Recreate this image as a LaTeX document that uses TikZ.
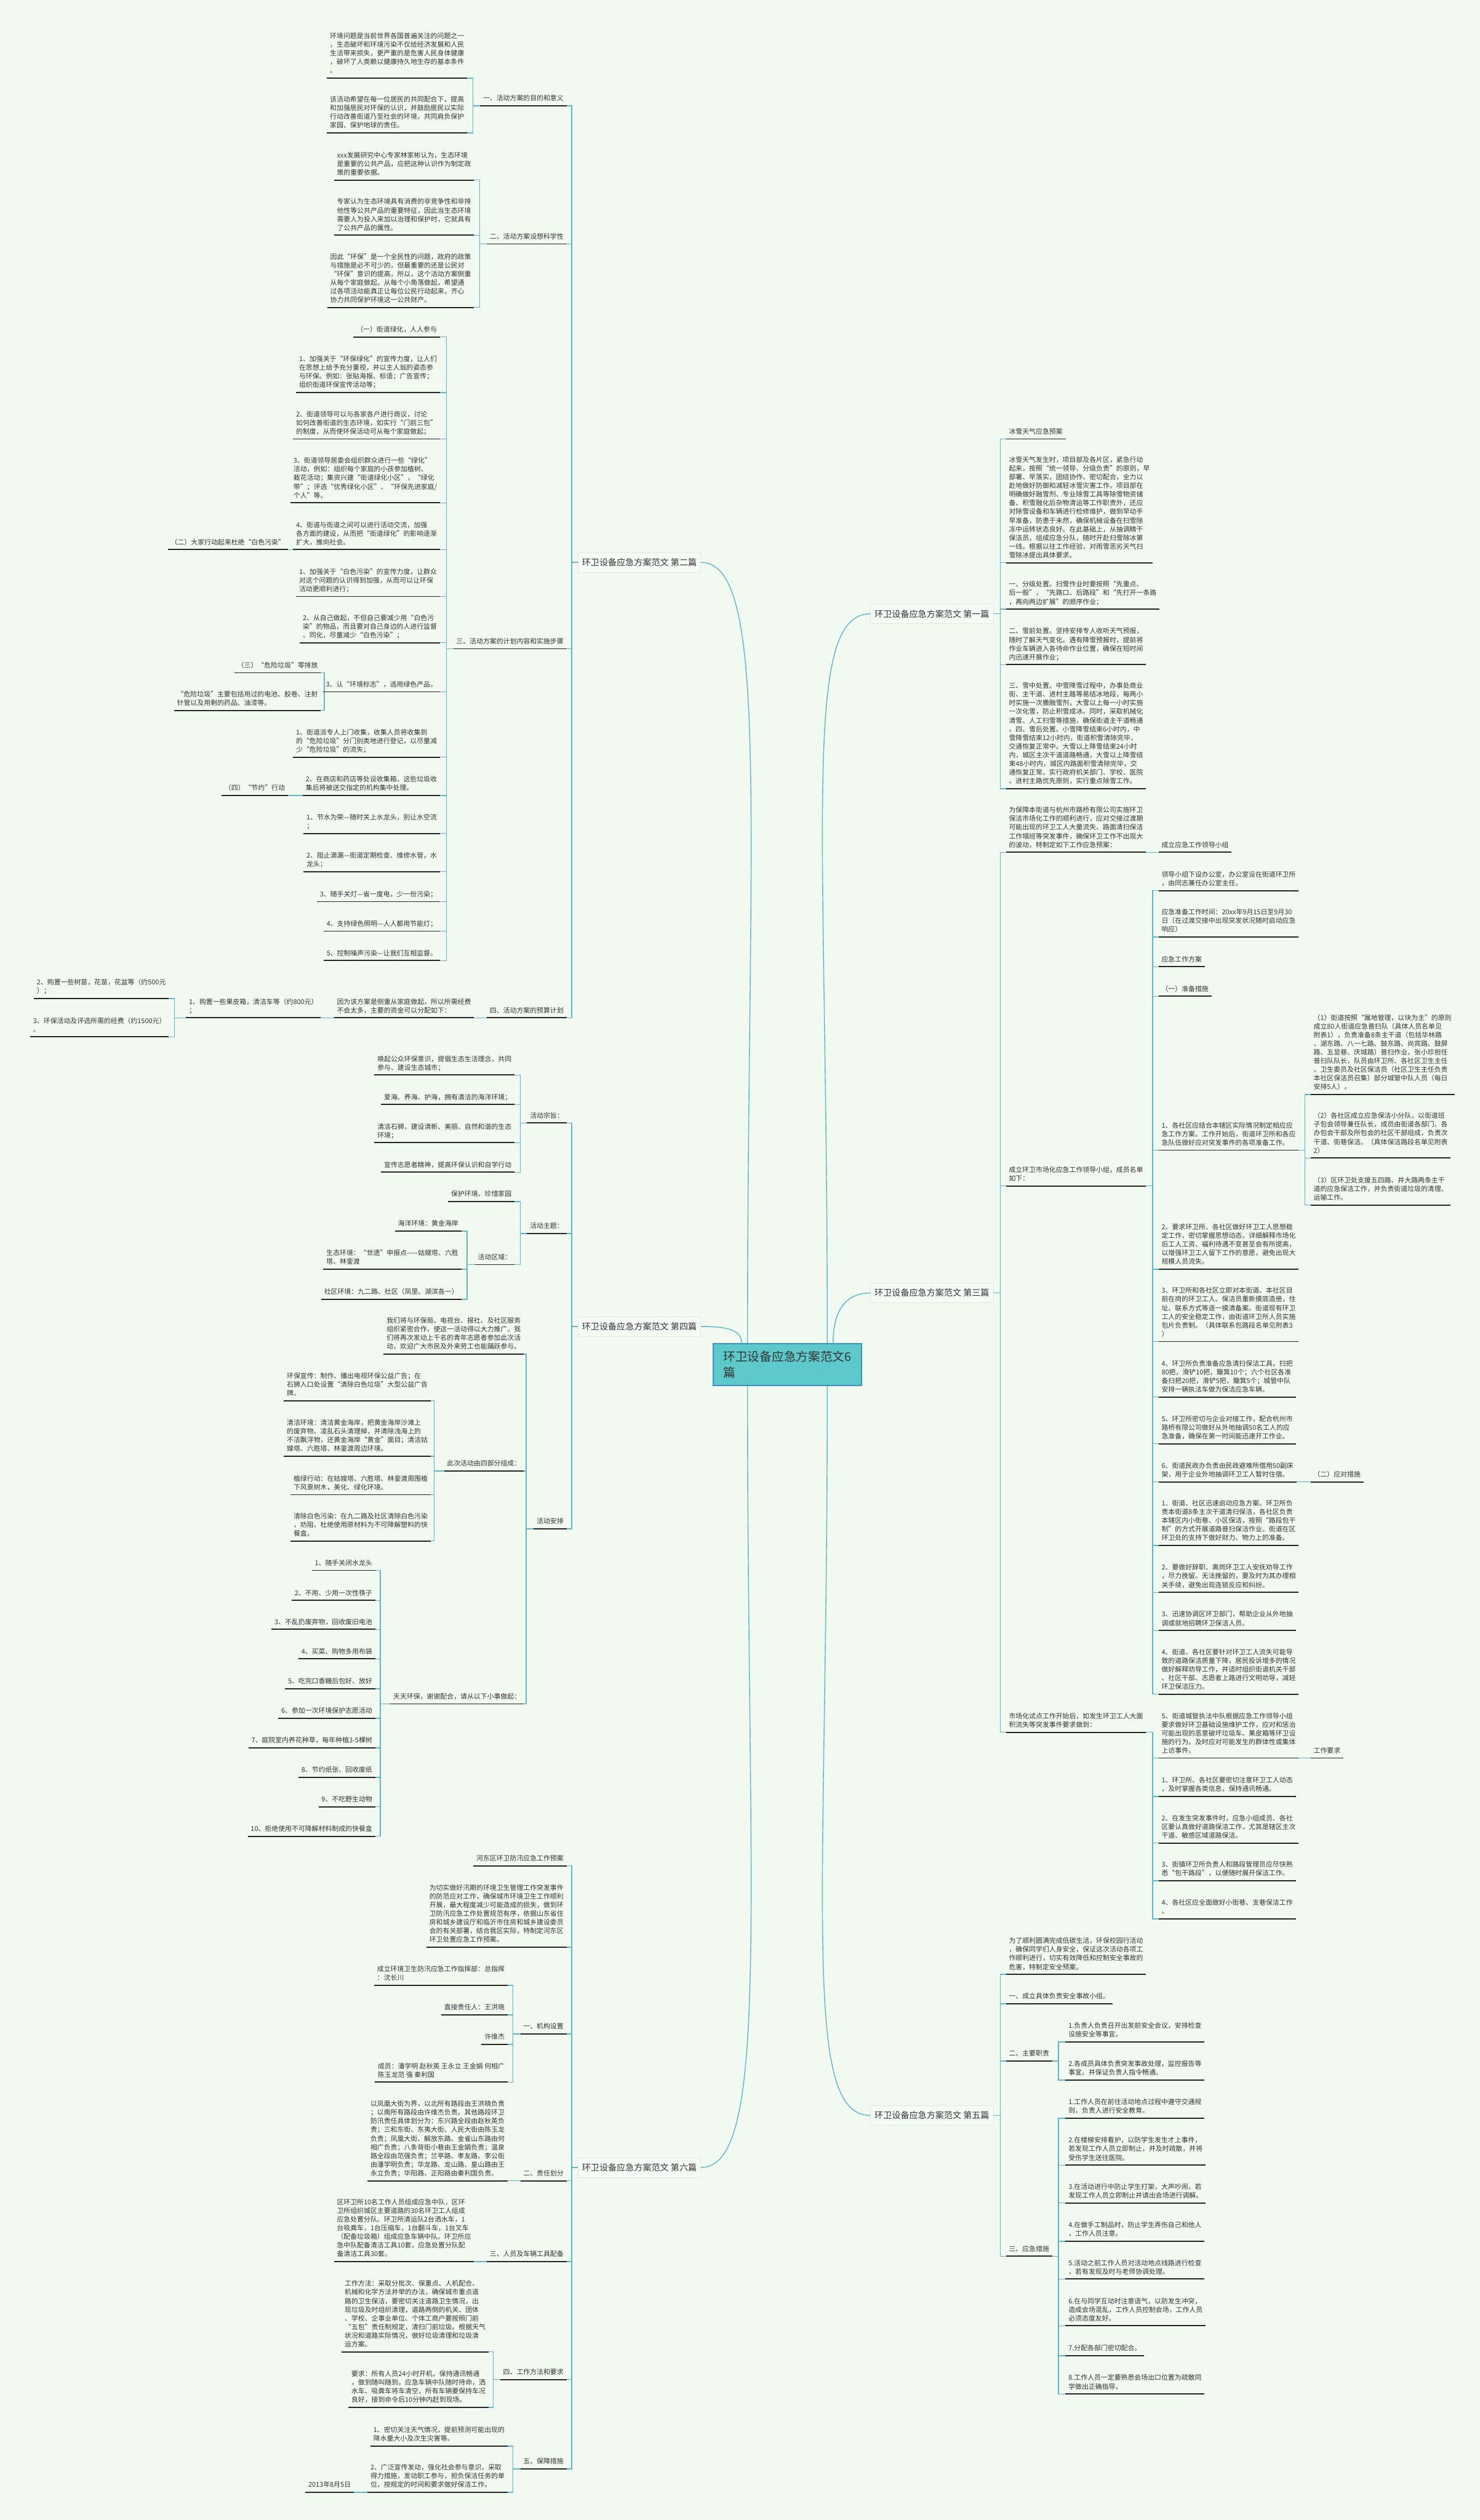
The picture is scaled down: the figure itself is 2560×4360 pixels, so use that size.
\documentclass[tikz,border=0pt]{standalone}
\usepackage{fontspec}
\setmainfont{Noto Sans CJK SC}
\definecolor{bgc}{HTML}{F1F9F1}
\definecolor{conc}{HTML}{5CB8C6}
\definecolor{txtc}{HTML}{333333}
\definecolor{cfill}{HTML}{5EC9CA}
\definecolor{cdraw}{HTML}{3D8FC7}
\definecolor{pfill}{HTML}{F5FBF5}
\definecolor{pdraw}{HTML}{E0E8E0}
\tikzset{
  basenode/.style={font=\fontsize{11.6}{15}\selectfont, text=txtc, inner xsep=5pt, inner ysep=4pt, align=left, execute at end node=\strut},
  lnode/.style={basenode, anchor=south east},
  rnode/.style={basenode, anchor=south west},
  uline/.style={line width=2pt, black!85},
  conn/.style={line width=1.5pt, conc},
  pian/.style={font=\fontsize{15}{18}\selectfont, text=txtc, fill=pfill, draw=pdraw, line width=0.8pt, inner xsep=7pt, minimum height=34pt},
  center/.style={font=\fontsize{21}{27}\selectfont, text=txtc, fill=cfill, draw=cdraw, line width=2pt, minimum width=256pt, minimum height=72pt, align=left}
}
\newcommand\lconn[3]{\foreach \ch in {#3}{\draw[conn] (#1) -- (#2,0 |- #1) |- (\ch.south east);}}
\newcommand\rconn[3]{\foreach \ch in {#3}{\draw[conn] (#1) -- (#2,0 |- #1) |- (\ch.south west);}}
\begin{document}
\begin{tikzpicture}[x=1pt,y=-1pt]
\fill[bgc] (0,0) rectangle (2560,4360);
\useasboundingbox (0,0) rectangle (2560,4360);

% central
\node[center] (c) at (1362,2361) {环卫设备应急方案范文6\\篇};

% level 1
\node[pian] (p2) at (1106,973) {环卫设备应急方案范文 第二篇};
\node[pian] (p4) at (1106,2295) {环卫设备应急方案范文 第四篇};
\node[pian] (p6) at (1106,3750) {环卫设备应急方案范文 第六篇};
\node[pian] (p1) at (1612,1062) {环卫设备应急方案范文 第一篇};
\node[pian] (p3) at (1612,2237) {环卫设备应急方案范文 第三篇};
\node[pian] (p5) at (1612,3660) {环卫设备应急方案范文 第五篇};

\draw[conn] ([xshift=60pt]c.north west) .. controls +(0,-900) and +(120,0) .. (p2.east);
\draw[conn] ([xshift=50pt]c.north west) .. controls +(0,-25) and +(40,0) .. (p4.east);
\draw[conn] ([xshift=60pt]c.south west) .. controls +(0,900) and +(120,0) .. (p6.east);
\draw[conn] ([xshift=-60pt]c.north east) .. controls +(0,-900) and +(-120,0) .. (p1.west);
\draw[conn] ([xshift=-50pt]c.north east) .. controls +(0,-60) and +(-40,0) .. (p3.west);
\draw[conn] ([xshift=-60pt]c.south east) .. controls +(0,900) and +(-120,0) .. (p5.west);

% ===== 第二篇 =====
\node[lnode] (a1) at (980,183) {一、活动方案的目的和意义};
\node[lnode] (a1c1) at (808,135) {环境问题是当前世界各国普遍关注的问题之一\\，生态破坏和环境污染不仅给经济发展和人民\\生活带来损失，更严重的是危害人民身体健康\\，破坏了人类赖以健康持久地生存的基本条件\\。};
\node[lnode] (a1c2) at (808,230) {该活动希望在每一位居民的共同配合下，提高\\和加强居民对环保的认识，并鼓励居民以实际\\行动改善街道乃至社会的环境，共同肩负保护\\家园、保护地球的责任。};
\node[lnode] (a2) at (980,422) {二、活动方案设想科学性};
\node[lnode] (a2c1) at (820,311.5) {xxx发展研究中心专家林家彬认为，生态环境\\是重要的公共产品，应把这种认识作为制定政\\策的重要依据。};
\node[lnode] (a2c2) at (820,407) {专家认为生态环境具有消费的非竞争性和非排\\他性等公共产品的重要特征，因此当生态环境\\需要人为投入来加以治理和保护时，它就具有\\了公共产品的属性。};
\node[lnode] (a2c3) at (820,532) {因此“环保”是一个全民性的问题，政府的政策\\与措施是必不可少的，但最重要的还是公民对\\“环保”意识的提高，所以，这个活动方案侧重\\从每个家庭做起，从每个小角落做起，希望通\\过各项活动能真正让每位公民行动起来，齐心\\协力共同保护环境这一公共财产。};
\node[lnode] (a3) at (980,1122.5) {三、活动方案的计划内容和实施步骤};
\node[lnode] (a3c1) at (761,583) {（一）街道绿化，人人参与};
\node[lnode] (a3c2) at (761,679) {1、加强关于“环保绿化”的宣传力度，让人们\\在思想上给予充分重视，并以主人翁的姿态参\\与环保。例如：张贴海报、标语；广告宣传；\\组织街道环保宣传活动等；};
\node[lnode] (a3c3) at (761,759.5) {2、街道领导可以与各家各户进行商议，讨论\\如何改善街道的生态环境，如实行“门前三包”\\的制度，从而使环保活动可从每个家庭做起；};
\node[lnode] (a3c4) at (761,870) {3、街道领导居委会组织群众进行一些“绿化”\\活动，例如：组织每个家庭的小孩参加植树、\\栽花活动；集资兴建“街道绿化小区”，“绿化\\带”；评选“优秀绿化小区”、“环保先进家庭/\\个人”等。};
\node[lnode] (a3c5) at (761,951) {4、街道与街道之间可以进行活动交流，加强\\各方面的建设，从而把“街道绿化”的影响逐渐\\扩大，推向社会。};
\node[lnode] (a3c5a) at (498,951) {（二）大家行动起来杜绝“白色污染”};
\node[lnode] (a3c6) at (761,1032) {1、加强关于“白色污染”的宣传力度，让群众\\对这个问题的认识得到加强，从而可以让环保\\活动更顺利进行；};
\node[lnode] (a3c7) at (761,1112) {2、从自己做起，不但自己要减少用“白色污\\染”的物品，而且要对自己身边的人进行监督\\、同化，尽量减少“白色污染”；};
\node[lnode] (a3c8) at (761,1197) {3、认“环境标志”，选用绿色产品。};
\node[lnode] (a3c8a) at (555,1164) {（三）“危险垃圾”零排放};
\node[lnode] (a3c8b) at (555,1229) {“危险垃圾”主要包括用过的电池、胶卷、注射\\针管以及用剩的药品、油漆等。};
\node[lnode] (a3c9) at (761,1310) {1、街道派专人上门收集，收集人员将收集到\\的“危险垃圾”分门别类地进行登记，以尽量减\\少“危险垃圾”的流失；};
\node[lnode] (a3c10) at (761,1376.5) {2、在商店和药店等处设收集箱，这些垃圾收\\集后将被送交指定的机构集中处理。};
\node[lnode] (a3c10a) at (498,1376.5) {（四）“节约”行动};
\node[lnode] (a3c11) at (761,1442) {1、节水为荣—随时关上水龙头，别让水空流\\；};
\node[lnode] (a3c12) at (761,1508) {2、阻止滴漏—街道定期检查、维修水管，水\\龙头；};
\node[lnode] (a3c13) at (761,1560) {3、随手关灯—省一度电，少一份污染；};
\node[lnode] (a3c14) at (761,1611) {4、支持绿色照明—人人都用节能灯；};
\node[lnode] (a3c15) at (761,1662) {5、控制噪声污染—让我们互相监督。};
\node[lnode] (a4) at (980,1761) {四、活动方案的预算计划};
\node[lnode] (a4c1) at (820,1761) {因为该方案是侧重从家庭做起，所以所需经费\\不会太多，主要的资金可以分配如下：};
\node[lnode] (a4c1a) at (555,1761) {1、购置一些果皮箱，清洁车等（约800元）\\；};
\node[lnode] (a4c1a1) at (292,1727.5) {2、购置一些树苗，花苗，花盆等（约500元\\）；};
\node[lnode] (a4c1a2) at (292,1794) {3、环保活动及评选所需的经费（约1500元）\\。};

\lconn{p2.west}{989}{a1,a2,a3,a4}
\lconn{a1.south west}{818}{a1c1,a1c2}
\lconn{a2.south west}{830}{a2c1,a2c2,a2c3}
\lconn{a3.south west}{772}{a3c1,a3c2,a3c3,a3c4,a3c5,a3c6,a3c7,a3c8,a3c9,a3c10,a3c11,a3c12,a3c13,a3c14,a3c15}
\lconn{a3c5.south west}{508}{a3c5a}
\lconn{a3c8.south west}{561}{a3c8a,a3c8b}
\lconn{a3c10.south west}{508}{a3c10a}
\lconn{a4.south west}{830}{a4c1}
\lconn{a4c1.south west}{566}{a4c1a}
\lconn{a4c1a.south west}{302}{a4c1a1,a4c1a2}

% ===== 第四篇 =====
\node[lnode] (b1) at (980,1943) {活动宗旨：};
\node[lnode] (b1c1) at (890,1860) {唤起公众环保意识，提倡生态生活理念，共同\\参与、建设生态城市；};
\node[lnode] (b1c2) at (890,1911) {爱海、养海、护海，拥有清洁的海洋环境；};
\node[lnode] (b1c3) at (890,1977) {清洁石狮，建设清新、美丽、自然和谐的生态\\环境；};
\node[lnode] (b1c4) at (890,2028) {宣传志愿者精神，提高环保认识和自学行动};
\node[lnode] (b2) at (980,2134) {活动主题：};
\node[lnode] (b2c1) at (890,2079) {保护环境、珍惜家园};
\node[lnode] (b2c2) at (890,2188) {活动区域：};
\node[lnode] (b2c2a) at (798,2130) {海洋环境：黄金海岸};
\node[lnode] (b2c2b) at (798,2196) {生态环境：“世遗”申报点——姑嫂塔、六胜\\塔、林銮渡};
\node[lnode] (b2c2c) at (798,2248) {社区环境：九二路、社区（凤里、湖滨各一）};
\node[lnode] (b3) at (980,2645) {活动安排};
\node[lnode] (b3c1) at (906,2343) {我们将与环保局、电视台、报社、及社区服务\\组织紧密合作，使这一活动得以大力推广。我\\们将再次发动上千名的青年志愿者参加此次活\\动，欢迎广大市民及外来劳工也能踊跃参与。};
\node[lnode] (b3c2) at (906,2545) {此次活动由四部分组成：};
\node[lnode] (b3c2a) at (745,2423.5) {环保宣传：制作、播出电视环保公益广告；在\\石狮入口处设置“清除白色垃圾”大型公益广告\\牌。};
\node[lnode] (b3c2b) at (745,2519.5) {清洁环境：清洁黄金海岸，把黄金海岸沙滩上\\的废弃物、凌乱石头清理掉，并清除浅海上的\\不洁飘浮物，还黄金海岸“黄金”面目；清洁姑\\嫂塔、六胜塔、林銮渡周边环境。};
\node[lnode] (b3c2c) at (745,2586) {植绿行动：在姑嫂塔、六胜塔、林銮渡周围植\\下风景树木，美化、绿化环境。};
\node[lnode] (b3c2d) at (745,2666) {清除白色污染：在九二路及社区清除白色污染\\，劝阻、杜绝使用原材料为不可降解塑料的快\\餐盒。};
\node[lnode] (b3c3) at (906,2948) {天天环保，谢谢配合，请从以下小事做起：};
\node[lnode] (b3c3a) at (649,2717) {1、随手关闭水龙头};
\node[lnode] (b3c3b) at (649,2769) {2、不用、少用一次性筷子};
\node[lnode] (b3c3c) at (649,2819) {3、不乱扔废弃物，回收废旧电池};
\node[lnode] (b3c3d) at (649,2870) {4、买菜、购物多用布袋};
\node[lnode] (b3c3e) at (649,2922) {5、吃完口香糖后包好、放好};
\node[lnode] (b3c3f) at (649,2973) {6、参加一次环境保护志愿活动};
\node[lnode] (b3c3g) at (649,3024) {7、庭院室内养花种草，每年种植3-5棵树};
\node[lnode] (b3c3h) at (649,3075) {8、节约纸张、回收废纸};
\node[lnode] (b3c3i) at (649,3126) {9、不吃野生动物};
\node[lnode] (b3c3j) at (649,3177) {10、拒绝使用不可降解材料制成的快餐盒};

\lconn{p4.west}{989}{b1,b2,b3}
\lconn{b1.south west}{900}{b1c1,b1c2,b1c3,b1c4}
\lconn{b2.south west}{900}{b2c1,b2c2}
\lconn{b2c2.south west}{808}{b2c2a,b2c2b,b2c2c}
\lconn{b3.south west}{910}{b3c1,b3c2,b3c3}
\lconn{b3c2.south west}{751}{b3c2a,b3c2b,b3c2c,b3c2d}
\lconn{b3c3.south west}{658}{b3c3a,b3c3b,b3c3c,b3c3d,b3c3e,b3c3f,b3c3g,b3c3h,b3c3i,b3c3j}

% ===== 第六篇 =====
\node[lnode] (c1) at (980,3228) {河东区环卫防汛应急工作预案};
\node[lnode] (c2) at (980,3369) {为切实做好汛期的环境卫生管理工作突发事件\\的防范应对工作，确保城市环境卫生工作顺利\\开展，最大程度减少可能造成的损失，做到环\\卫防汛应急工作处置规范有序，依据山东省住\\房和城乡建设厅和临沂市住房和城乡建设委员\\会的有关部署，结合我区实际，特制定河东区\\环卫处置应急工作预案。};
\node[lnode] (c3) at (980,3519) {一、机构设置};
\node[lnode] (c3a) at (878,3435) {成立环境卫生防汛应急工作指挥部：总指挥\\：沈长川};
\node[lnode] (c3b) at (878,3486) {直接责任人：王洪晓};
\node[lnode] (c3c) at (878,3537) {许维杰};
\node[lnode] (c3d) at (878,3602.5) {成员：潘学明 赵秋英 王永立 王金娟 何相广\\陈玉龙范 强 秦利国};
\node[lnode] (c4) at (980,3773) {二、责任划分};
\node[lnode] (c4a) at (878,3773) {以凤凰大街为界，以北所有路段由王洪晓负责\\；以南所有路段由许维杰负责。其他路段环卫\\防汛责任具体划分为：东兴路全段由赵秋英负\\责；三和东街、东夷大街、人民大街由陈玉龙\\负责；凤凰大街、解放东路、金雀山东路由何\\相广负责；八条背街小巷由王金娟负责；温泉\\路全段由范强负责；兰亭路、孝友路、李公街\\由潘学明负责；华龙路、龙山路、皇山路由王\\永立负责；华阳路、正阳路由秦利国负责。};
\node[lnode] (c5) at (980,3913) {三、人员及车辆工具配备};
\node[lnode] (c5a) at (820,3913) {区环卫所10名工作人员组成应急中队，区环\\卫所组织城区主要道路的30名环卫工人组成\\应急处置分队。环卫所清运队2台洒水车，1\\台吸粪车，1台压缩车，1台翻斗车，1台叉车\\（配备垃圾箱）组成应急车辆中队。环卫所应\\急中队配备清洁工具10套，应急处置分队配\\备清洁工具30套。};
\node[lnode] (c6) at (980,4117) {四、工作方法和要求};
\node[lnode] (c6a) at (845,4069) {工作方法：采取分批次、保重点、人机配合、\\机械和化学方法并举的办法，确保城市重点道\\路的卫生保洁，要密切关注道路卫生情况，出\\现垃圾及时组织清理，道路两侧的机关、团体\\、学校、企事业单位、个体工商户要按照门前\\“五包”责任制规定，清扫门前垃圾。根据天气\\状况和道路实际情况，做好垃圾清理和垃圾清\\运方案。};
\node[lnode] (c6b) at (845,4165) {要求：所有人员24小时开机，保持通讯畅通\\，做到随叫随到。应急车辆中队随时待命，洒\\水车、吸粪车将车清空，所有车辆要保持车况\\良好，接到命令后10分钟内赶到现场。};
\node[lnode] (c7) at (980,4271.5) {五、保障措施};
\node[lnode] (c7a) at (878,4232) {1、密切关注天气情况，提前预测可能出现的\\降水量大小及次生灾害等。};
\node[lnode] (c7b) at (878,4312) {2、广泛宣传发动，强化社会参与意识，采取\\得力措施，发动职工参与，担负保洁任务的单\\位，按规定的时间和要求做好保洁工作。};
\node[lnode] (c7b1) at (612,4312) {2013年8月5日};

\lconn{p6.west}{989}{c1,c2,c3,c4,c5,c6,c7}
\lconn{c3.south west}{887}{c3a,c3b,c3c,c3d}
\lconn{c4.south west}{887}{c4a}
\lconn{c5.south west}{830}{c5a}
\lconn{c6.south west}{853}{c6a,c6b}
\lconn{c7.south west}{887}{c7a,c7b}
\lconn{c7b.south west}{620}{c7b1}

% ===== 第一篇 =====
\node[rnode] (d1) at (1740,759.5) {冰雪天气应急预案};
\node[rnode] (d2) at (1740,973.5) {冰雪天气发生时，项目部及各片区，紧急行动\\起来，按照“统一领导、分级负责”的原则，早\\部署、早落实，团结协作、密切配合，全力以\\赴地做好防御和减轻冰雪灾害工作。项目部在\\明确做好融雪剂、专业除雪工具等除雪物资储\\备、积雪融化后杂物清运等工作职责外，还应\\对除雪设备和车辆进行检修维护，做到早动手\\早准备，防患于未然，确保机械设备在扫雪除\\冻中运转状态良好。在此基础上，从抽调精干\\保洁员，组成应急分队，随时开赴扫雪除冰第\\一线。根据以往工作经验，对雨雪恶劣天气扫\\雪除冰提出具体要求。};
\node[rnode] (d3) at (1740,1054) {一、分级处置。扫雪作业时要按照“先重点、\\后一般”，“先路口、后路段”和“先打开一条路\\，再向两边扩展”的顺序作业；};
\node[rnode] (d4) at (1740,1150) {二、雪前处置。坚持安排专人收听天气预报，\\随时了解天气变化。遇有降雪预报时，提前将\\作业车辆进入各待命作业位置，确保在短时间\\内迅速开展作业；};
\node[rnode] (d5) at (1740,1364.5) {三、雪中处置。中雪降雪过程中，办事处商业\\街、主干道、进村主路等易结冰地段，每两小\\时实施一次撒融雪剂，大雪以上每一小时实施\\一次化雪，防止积雪成冰。同时，采取机械化\\清雪、人工扫雪等措施，确保街道主干道畅通\\。四、雪后处置。小雪降雪结束6小时内，中\\雪降雪结束12小时内，街道积雪清除完毕，\\交通恢复正常中。大雪以上降雪结束24小时\\内，城区主次干道道路畅通，大雪以上降雪结\\束48小时内，城区内路面积雪清除完毕，交\\通恢复正常。实行政府机关部门、学校、医院\\、进村主路优先原则，实行重点除雪工作。};
\rconn{p1.east}{1730}{d1,d2,d3,d4,d5}

% ===== 第三篇 =====
\node[rnode] (e1) at (1740,1474.6) {为保障本街道与杭州市路桥有限公司实施环卫\\保洁市场化工作的顺利进行，应对交接过渡期\\可能出现的环卫工人大量流失、路面清扫保洁\\工作塌班等突发事件，确保环卫工作不出现大\\的波动，特制定如下工作应急预案：};
\node[rnode] (e1a) at (2004,1474.6) {成立应急工作领导小组};
\node[rnode] (e2) at (1740,2052) {成立环卫市场化应急工作领导小组，成员名单\\如下：};
\node[rnode] (e2a) at (2004,1541) {领导小组下设办公室，办公室设在街道环卫所\\，由同志兼任办公室主任。};
\node[rnode] (e2b) at (2004,1621) {应急准备工作时间：20xx年9月15日至9月30\\日（在过渡交接中出现突发状况随时启动应急\\响应）};
\node[rnode] (e2c) at (2004,1672.6) {应急工作方案};
\node[rnode] (e2d) at (2004,1723.6) {（一）准备措施};
\node[rnode] (e2e) at (2004,1990) {1、各社区应结合本辖区实际情况制定相应应\\急工作方案。工作开始后，街道环卫所和各应\\急队伍做好应对突发事件的各项准备工作。};
\node[rnode] (e2e1) at (2267,1893.6) {（1）街道按照“属地管理，以块为主”的原则\\成立80人街道应急普扫队（具体人员名单见\\附表1），负责准备8条主干道（包括华林路\\、湖东路、八一七路、鼓东路、尚宾路、鼓屏\\路、五显巷、庆城路）普扫作业，张小珍担任\\普扫队队长，队员由环卫所、各社区卫生主任\\、卫生委员及社区保洁员（社区卫生主任负责\\本社区保洁员召集）部分城管中队人员（每日\\安排5人）。};
\node[rnode] (e2e2) at (2267,2003.6) {（2）各社区成立应急保洁小分队，以街道班\\子包会领导兼任队长，成员由街道各部门、各\\办包会干部及所包会的社区干部组成，负责次\\干道、街巷保洁。（具体保洁路段名单见附表\\2）};
\node[rnode] (e2e3) at (2267,2085) {（3）区环卫处支援五四路、井大路两条主干\\道的应急保洁工作，并负责街道垃圾的清理、\\运输工作。};
\node[rnode] (e2f) at (2004,2196) {2、要求环卫所、各社区做好环卫工人思想稳\\定工作，密切掌握思想动态，详细解释市场化\\后工人工资、福利待遇不变甚至会有所提高，\\以增强环卫工人留下工作的意愿，避免出现大\\规模人员流失。};
\node[rnode] (e2g) at (2004,2321) {3、环卫所和各社区立即对本街道、本社区目\\前在岗的环卫工人、保洁员重新摸底造册，住\\址、联系方式等逐一摸清备案。街道现有环卫\\工人的安全稳定工作，由街道环卫所人员实施\\包片负责制。（具体联系包路段名单见附表3\\）};
\node[rnode] (e2h) at (2004,2417) {4、环卫所负责准备应急清扫保洁工具，扫把\\80把，滑铲10把，簸箕10个；六个社区各准\\备扫把20把，滑铲5把，簸箕5个；城管中队\\安排一辆执法车做为保洁应急车辆。};
\node[rnode] (e2i) at (2004,2498) {5、环卫所密切与企业对接工作，配合杭州市\\路桥有限公司做好从外地抽调50名工人的应\\急准备，确保在第一时间能迅速开工作业。};
\node[rnode] (e2j) at (2004,2564) {6、街道民政办负责由民政避难所借用50副床\\架，用于企业外地抽调环卫工人暂时住宿。};
\node[rnode] (e2j1) at (2267,2564) {（二）应对措施};
\node[rnode] (e2k) at (2004,2674) {1、街道、社区迅速启动应急方案。环卫所负\\责本街道8条主次干道清扫保洁，各社区负责\\本辖区内小街巷、小区保洁，按照“路段包干\\制”的方式开展道路普扫保洁作业。街道在区\\环卫处的支持下做好财力、物力上的准备。};
\node[rnode] (e2l) at (2004,2755) {2、要做好辞职、离岗环卫工人安抚劝导工作\\，尽力挽留。无法挽留的，要及时为其办理相\\关手续，避免出现连锁反应和纠纷。};
\node[rnode] (e2m) at (2004,2821) {3、迅速协调区环卫部门，帮助企业从外地抽\\调或就地招聘环卫保洁人员。};
\node[rnode] (e2n) at (2004,2931) {4、街道、各社区要针对环卫工人流失可能导\\致的道路保洁质量下降，居民投诉增多的情况\\做好解释劝导工作，并适时组织街道机关干部\\、社区干部、志愿者上路进行文明劝导，减轻\\环卫保洁压力。};
\node[rnode] (e3) at (1740,2997) {市场化试点工作开始后，如发生环卫工人大面\\积流失等突发事件要求做到：};
\node[rnode] (e3a) at (2004,3041.7) {5、街道城管执法中队根据应急工作领导小组\\要求做好环卫基础设施维护工作，应对和惩治\\可能出现的恶意破坏垃圾车、果皮箱等环卫设\\施的行为。及时应对可能发生的群体性或集体\\上访事件。};
\node[rnode] (e3a1) at (2267,3041.7) {工作要求};
\node[rnode] (e3b) at (2004,3108) {1、环卫所、各社区要密切注意环卫工人动态\\，及时掌握各类信息，保持通讯畅通。};
\node[rnode] (e3c) at (2004,3188.6) {2、在发生突发事件时，应急小组成员、各社\\区要认真做好道路保洁工作，尤其是辖区主次\\干道、敏感区域道路保洁。};
\node[rnode] (e3d) at (2004,3254) {3、街镇环卫所负责人和路段管理员应尽快熟\\悉“包干路段”，以便随时展开保洁工作。};
\node[rnode] (e3e) at (2004,3320) {4、各社区应全面做好小街巷、支巷保洁工作\\。};

\rconn{p3.east}{1730}{e1,e2,e3}
\rconn{e1.south east}{1990}{e1a}
\rconn{e2.south east}{1993.6}{e2a,e2b,e2c,e2d,e2e,e2f,e2g,e2h,e2i,e2j,e2k,e2l,e2m,e2n}
\rconn{e2e.south east}{2257}{e2e1,e2e2,e2e3}
\rconn{e2j.south east}{2257}{e2j1}
\rconn{e3.south east}{1993.6}{e3a,e3b,e3c,e3d,e3e}
\rconn{e3a.south east}{2257}{e3a1}

% ===== 第五篇 =====
\node[rnode] (f1) at (1740,3416) {为了顺利圆满完成低碳生活，环保校园行活动\\，确保同学们人身安全，保证这次活动各项工\\作顺利进行，切实有效降低和控制安全事故的\\危害，特制定安全预案。};
\node[rnode] (f2) at (1740,3467) {一、成立具体负责安全事故小组。};
\node[rnode] (f3) at (1740,3566) {二、主要职责};
\node[rnode] (f3a) at (1843,3533) {1.负责人负责召开出发前安全会议，安排检查\\设施安全等事宜。};
\node[rnode] (f3b) at (1843,3599) {2.各成员具体负责突发事故处理，监控报告等\\事宜。并保证负责人指令畅通。};
\node[rnode] (f4) at (1740,3903.7) {三、应急措施};
\node[rnode] (f4a) at (1843,3665) {1.工作人员在前往活动地点过程中遵守交通规\\则，负责人进行安全教育。};
\node[rnode] (f4b) at (1843,3746) {2.在楼梯安排看护，以防学生发生才上事件，\\若发现工作人员立即制止，并及时疏散，并将\\受伤学生送往医院。};
\node[rnode] (f4c) at (1843,3811.5) {3.在活动进行中防止学生打架，大声吵闹，若\\发现工作人员立即制止并请出会场进行调解。};
\node[rnode] (f4d) at (1843,3877.6) {4.在做手工制品时，防止学生弄伤自己和他人\\，工作人员注意。};
\node[rnode] (f4e) at (1843,3943) {5.活动之前工作人员对活动地点线路进行检查\\，若有发现及时与老师协调处理。};
\node[rnode] (f4f) at (1843,4024) {6.在与同学互动时注意语气，以防发生冲突，\\造成会场混乱，工作人员控制会场，工作人员\\必须态度友好。};
\node[rnode] (f4g) at (1843,4075.7) {7.分配各部门密切配合。};
\node[rnode] (f4h) at (1843,4142) {8.工作人员一定要熟悉会场出口位置为疏散同\\学做出正确指导。};

\rconn{p5.east}{1730}{f1,f2,f3,f4}
\rconn{f3.south east}{1831}{f3a,f3b}
\rconn{f4.south east}{1831}{f4a,f4b,f4c,f4d,f4e,f4f,f4g,f4h}

% underlines
\foreach \n in {a1,a1c1,a1c2,a2,a2c1,a2c2,a2c3,a3,a3c1,a3c2,a3c3,a3c4,a3c5,a3c5a,a3c6,a3c7,a3c8,a3c8a,a3c8b,a3c9,a3c10,a3c10a,a3c11,a3c12,a3c13,a3c14,a3c15,a4,a4c1,a4c1a,a4c1a1,a4c1a2,
  b1,b1c1,b1c2,b1c3,b1c4,b2,b2c1,b2c2,b2c2a,b2c2b,b2c2c,b3,b3c1,b3c2,b3c2a,b3c2b,b3c2c,b3c2d,b3c3,b3c3a,b3c3b,b3c3c,b3c3d,b3c3e,b3c3f,b3c3g,b3c3h,b3c3i,b3c3j,
  c1,c2,c3,c3a,c3b,c3c,c3d,c4,c4a,c5,c5a,c6,c6a,c6b,c7,c7a,c7b,c7b1,
  d1,d2,d3,d4,d5,e1,e1a,e2,e2a,e2b,e2c,e2d,e2e,e2e1,e2e2,e2e3,e2f,e2g,e2h,e2i,e2j,e2j1,e2k,e2l,e2m,e2n,e3,e3a,e3a1,e3b,e3c,e3d,e3e,
  f1,f2,f3,f3a,f3b,f4,f4a,f4b,f4c,f4d,f4e,f4f,f4g,f4h}
  \draw[uline] (\n.south west) -- (\n.south east);
\end{tikzpicture}
\end{document}
